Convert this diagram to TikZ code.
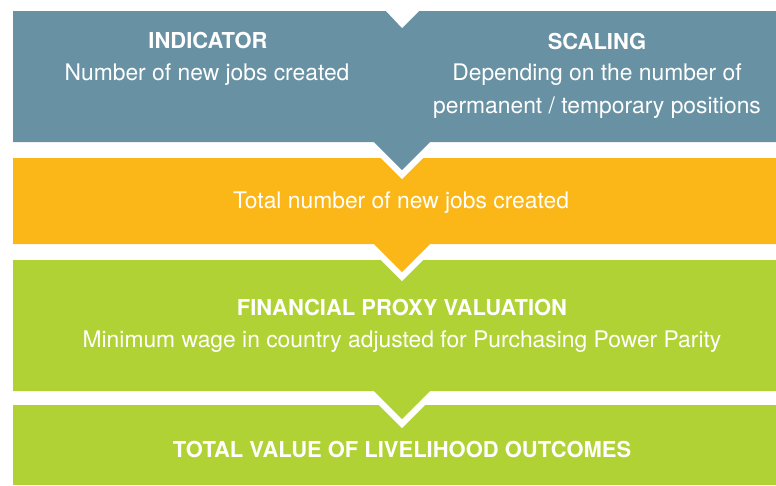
\documentclass[tikz,border=0pt]{standalone}
\usepackage{fontspec}
\setmainfont{TeX Gyre Heros}
\definecolor{steel}{RGB}{104,146,163}
\definecolor{amber}{RGB}{251,182,23}
\definecolor{lime}{RGB}{176,210,53}

\begin{document}
\begin{tikzpicture}[x=0.02cm, y=-0.02cm,
    txt/.style={text=white, anchor=base, inner sep=0pt,
      font=\fontsize{13}{19}\selectfont, align=center},
    head/.style={txt, font=\fontsize{12.5}{19}\selectfont\bfseries}]

  \useasboundingbox (0,0) rectangle (776,485);

  % bands, drawn from the bottom up so each notch cuts the band below
  \fill[lime] (13,405) rectangle (776,485);
  \foreach \ytop/\ybot/\col in {260/391/lime, 158/244/amber, 11/142/steel}{
    \fill[white] (374,\ybot+9) -- (430,\ybot+9) -- (402,\ybot+37) -- cycle;
    \fill[\col] (13,\ytop) -- (776,\ytop) -- (776,\ybot) -- (430,\ybot)
      -- (402,\ybot+28) -- (374,\ybot) -- (13,\ybot) -- cycle;
  }
  \fill[white] (386,11) -- (419,11) -- (402,28) -- cycle;

  % texts
  \node[head] (ind) at (208,48) {INDICATOR};
  \node[txt] (indtxt) at (207,80) {Number of new jobs created};
  \node[head] (scl) at (597,49) {SCALING};
  \node[txt] (scltxt) at (597,80) {Depending on the number of};
  \node[txt] (scltxtb) at (597,113) {permanent / temporary positions};
  \node[txt] (total) at (401,208) {Total number of new jobs created};
  \node[head] (proxy) at (402,315) {FINANCIAL PROXY VALUATION};
  \node[txt] (wage) at (402,347) {Minimum wage in country adjusted for Purchasing Power Parity};
  \node[head] (value) at (402,457) {TOTAL VALUE OF LIVELIHOOD OUTCOMES};
\end{tikzpicture}
\end{document}
